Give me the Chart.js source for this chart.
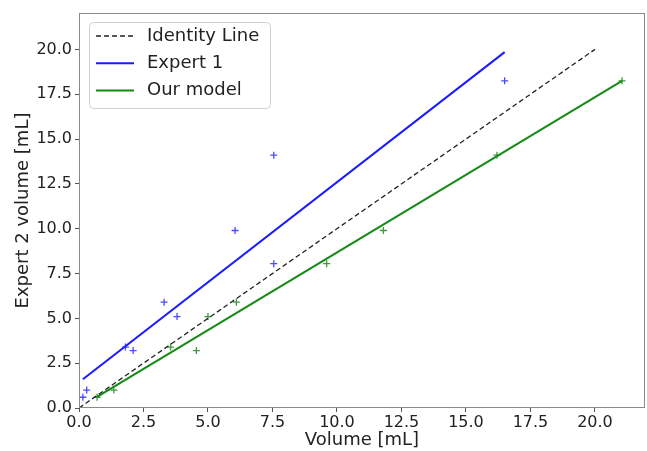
<!DOCTYPE html>
<html lang="en">
<head>
<meta charset="UTF-8">
<title>Expert 2 volume vs Volume</title>
<style>
    html, body { margin: 0; background: #fff; overflow: hidden; }
    #wrap { width: 647px; height: 451px; }
    canvas { display: block; }
</style>
</head>
<body>
<div id="wrap"><canvas id="chart" width="647" height="451"></canvas></div>
<script src="https://cdn.jsdelivr.net/npm/chart.js"></script>
<script>
// Expert 2 volumes (y) shared by both scatter series
const expert2 = [0.6, 1.0, 3.4, 3.2, 5.9, 5.1, 9.9, 14.1, 8.05, 18.25];
// x volumes
const expert1 = [0.15, 0.3, 1.8, 2.1, 3.3, 3.8, 6.05, 7.55, 7.55, 16.5];
const ourModel = [0.7, 1.35, 3.55, 4.55, 6.1, 5.0, 11.8, 16.2, 9.6, 21.05];
// fitted line end points
const identityX = [0, 20], identityY = [0, 20];
const expert1FitX = [0.15, 16.5], expert1FitY = [1.6, 19.85];
const modelFitX = [0.7, 21.05], modelFitY = [0.62, 18.25];
const xTicks = [0, 2.5, 5, 7.5, 10, 12.5, 15, 17.5, 20];
const yTicks = [0, 2.5, 5, 7.5, 10, 12.5, 15, 17.5, 20];

const pts = (xs, ys) => xs.map((x, i) => ({ x: x, y: ys[i] }));
const FONT = 'DejaVu Sans';

// draw the legend box inside the plot, top-left, plus the frame
const frameAndLegend = {
    id: 'frameAndLegend',
    afterDraw(chart) {
        const ctx = chart.ctx, a = chart.chartArea;
        ctx.save();
        ctx.strokeStyle = '#8a8a8a';
        ctx.lineWidth = 1;
        ctx.strokeRect(a.left + 0.5, a.top + 0.5, a.right - a.left - 1, a.bottom - a.top - 1);

        const items = chart.data.datasets.filter(d => d.inLegend);
        const bx = 89, by = 22, bw = 181, bh = 86;
        ctx.fillStyle = 'rgba(255,255,255,0.85)';
        ctx.strokeStyle = '#d0d0d0';
        ctx.beginPath();
        ctx.roundRect(bx + 0.5, by + 0.5, bw, bh, 4);
        ctx.fill();
        ctx.stroke();
        ctx.font = '18px ' + FONT;
        ctx.textBaseline = 'middle';
        items.forEach((d, i) => {
            const y = 36 + i * 27.2;
            ctx.strokeStyle = d.borderColor;
            ctx.lineWidth = d.borderWidth;
            ctx.setLineDash(d.borderDash || []);
            ctx.beginPath();
            ctx.moveTo(96, y);
            ctx.lineTo(134, y);
            ctx.stroke();
            ctx.setLineDash([]);
            ctx.fillStyle = '#222';
            ctx.fillText(d.label, 147, y);
        });
        ctx.restore();
    }
};

new Chart(document.getElementById('chart'), {
    type: 'scatter',
    data: {
        datasets: [
            { label: 'Identity Line', inLegend: true, data: pts(identityX, identityY), showLine: true,
              borderColor: '#222', borderWidth: 1.3, borderDash: [5, 3], pointRadius: 0 },
            { label: 'Expert 1', inLegend: true, data: pts(expert1FitX, expert1FitY), showLine: true,
              borderColor: '#1a1aff', borderWidth: 2, pointRadius: 0 },
            { label: 'Our model', inLegend: true, data: pts(modelFitX, modelFitY), showLine: true,
              borderColor: '#138a13', borderWidth: 2, pointRadius: 0 },
            { label: 'Expert 1 pts', data: pts(expert1, expert2), pointStyle: 'cross',
              pointRadius: 3.5, borderWidth: 1.3, borderColor: '#4a4aff', backgroundColor: '#4a4aff' },
            { label: 'Our model pts', data: pts(ourModel, expert2), pointStyle: 'cross',
              pointRadius: 3.5, borderWidth: 1.3, borderColor: '#3c9a3c', backgroundColor: '#3c9a3c' }
        ]
    },
    options: {
        responsive: false,
        animation: false,
        layout: { autoPadding: false, padding: { top: 13, right: 2, left: 0, bottom: 0 } },
        plugins: { legend: { display: false }, tooltip: { enabled: false } },
        scales: {
            x: {
                type: 'linear', min: 0, max: 21.94,
                afterBuildTicks: s => { s.ticks = xTicks.map(v => ({ value: v })); },
                afterFit: s => { s.height = 43; },
                grid: { drawOnChartArea: false, drawTicks: true, tickLength: 4, color: '#555' },
                border: { display: false },
                ticks: { font: { family: FONT, size: 16 }, color: '#222', padding: 1,
                         maxRotation: 0, callback: v => v.toFixed(1) },
                title: { display: true, text: 'Volume [mL]', font: { family: FONT, size: 18 },
                         color: '#222', padding: { top: 0, bottom: 0 } }
            },
            y: {
                type: 'linear', min: 0, max: 22.03,
                afterBuildTicks: s => { s.ticks = yTicks.map(v => ({ value: v })); },
                afterFit: s => { s.width = 79; },
                grid: { drawOnChartArea: false, drawTicks: true, tickLength: 4, color: '#555' },
                border: { display: false },
                ticks: { font: { family: FONT, size: 16 }, color: '#222', padding: 3,
                         callback: v => v.toFixed(1) },
                title: { display: true, text: 'Expert 2 volume [mL]', font: { family: FONT, size: 18 },
                         color: '#222', padding: { top: 13, bottom: 2 } }
            }
        }
    },
    plugins: [frameAndLegend]
});
</script>
</body>
</html>
